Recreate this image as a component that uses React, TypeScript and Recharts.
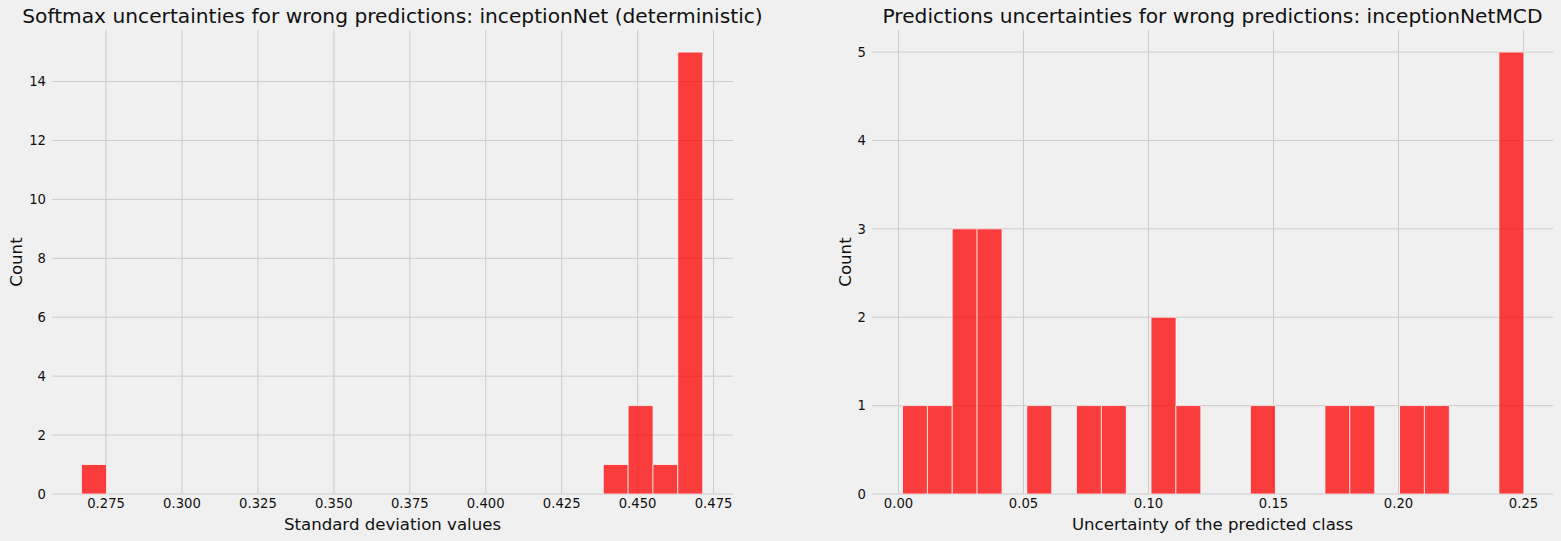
import React from 'react';
import { BarChart, Bar, XAxis, YAxis, CartesianGrid } from 'recharts';

// left panel: softmax std of wrong predictions (25 bins)
const softmaxBinStart = 0.2669;
const softmaxBinWidth = 0.00818;
const softmaxCounts = [1, 0, 0, 0, 0, 0, 0, 0, 0, 0, 0, 0, 0, 0, 0, 0, 0, 0, 0, 0, 0, 1, 3, 1, 15];
const softmaxXTicks = [0.275, 0.3, 0.325, 0.35, 0.375, 0.4, 0.425, 0.45, 0.475];
const softmaxYTicks = [0, 2, 4, 6, 8, 10, 12, 14];

// right panel: MC dropout uncertainty of wrong predictions (25 bins)
const mcdBinStart = 0.0016;
const mcdBinWidth = 0.00994;
const mcdCounts = [1, 1, 3, 3, 0, 1, 0, 1, 1, 0, 2, 1, 0, 0, 1, 0, 0, 1, 1, 0, 1, 1, 0, 0, 5];
const mcdXTicks = [0, 0.05, 0.1, 0.15, 0.2, 0.25];
const mcdYTicks = [0, 1, 2, 3, 4, 5];

const FONT = '"DejaVu Sans", sans-serif';
const BG = '#f0f0f0';
const GRID = '#cbcbcb';
const TEXT = '#111';

function toBins(start: number, width: number, counts: number[]) {
  return counts.map((count, i) => ({ x: start + width * (i + 0.5), count }));
}

interface HistProps {
  title: string;
  xLabel: string;
  data: { x: number; count: number }[];
  xDomain: [number, number];
  yDomain: [number, number];
  xTicks: number[];
  yTicks: number[];
  digits: number;
  width: number;
  yAxisWidth: number;
  rightMargin: number;
  countOffset: number;
}

function Histogram(p: HistProps) {
  const plotLeft = p.yAxisWidth;
  const plotRight = p.width - p.rightMargin;
  return (
    <BarChart
      width={p.width}
      height={541}
      data={p.data}
      margin={{ top: 30, right: p.rightMargin, bottom: 0, left: 0 }}
      barCategoryGap={0}
      barGap={0}
      style={{ fontFamily: FONT }}
    >
      <CartesianGrid stroke={GRID} strokeWidth={1} verticalValues={p.xTicks} horizontalValues={p.yTicks} />
      <XAxis
        dataKey="x"
        type="number"
        domain={p.xDomain}
        allowDataOverflow
        ticks={p.xTicks}
        tickFormatter={(v: number) => v.toFixed(p.digits)}
        tickSize={0}
        tickMargin={5}
        axisLine={false}
        tickLine={false}
        height={47}
        tick={{ fontSize: 13.2, fill: TEXT, fontFamily: FONT }}
        label={{ value: p.xLabel, position: 'insideBottom', offset: 11, fontSize: 16.6, fill: TEXT, fontFamily: FONT }}
      />
      <YAxis
        type="number"
        domain={p.yDomain}
        allowDataOverflow
        ticks={p.yTicks}
        tickSize={0}
        tickMargin={6}
        axisLine={false}
        tickLine={false}
        width={p.yAxisWidth}
        tick={{ fontSize: 13.2, fill: TEXT, fontFamily: FONT }}
        label={{
          value: 'Count',
          angle: -90,
          position: 'insideLeft',
          offset: p.countOffset,
          fontSize: 16.6,
          fill: TEXT,
          fontFamily: FONT,
          style: { textAnchor: 'middle' },
        }}
      />
      <Bar
        dataKey="count"
        fill="#ff0000"
        fillOpacity={0.75}
        stroke="#ffffff"
        strokeOpacity={0.75}
        strokeWidth={1}
        isAnimationActive={false}
      />
      <text
        x={(plotLeft + plotRight) / 2}
        y={23}
        textAnchor="middle"
        fontSize={20.2}
        fontFamily={FONT}
        fill={TEXT}
      >
        {p.title}
      </text>
    </BarChart>
  );
}

export default function App() {
  return (
    <div style={{ position: 'absolute', left: 0, top: 0, width: 1561, height: 541, background: BG, display: 'flex' }}>
      <Histogram
        title="Softmax uncertainties for wrong predictions: inceptionNet (deterministic)"
        xLabel="Standard deviation values"
        data={toBins(softmaxBinStart, softmaxBinWidth, softmaxCounts)}
        xDomain={[0.2572, 0.4814]}
        yDomain={[0, 15.75]}
        xTicks={softmaxXTicks}
        yTicks={softmaxYTicks}
        digits={3}
        width={780}
        yAxisWidth={52}
        rightMargin={47}
        countOffset={16}
      />
      <Histogram
        title="Predictions uncertainties for wrong predictions: inceptionNetMCD"
        xLabel="Uncertainty of the predicted class"
        data={toBins(mcdBinStart, mcdBinWidth, mcdCounts)}
        xDomain={[-0.0106, 0.2618]}
        yDomain={[0, 5.25]}
        xTicks={mcdXTicks}
        yTicks={mcdYTicks}
        digits={2}
        width={781}
        yAxisWidth={92}
        rightMargin={8}
        countOffset={65}
      />
    </div>
  );
}
